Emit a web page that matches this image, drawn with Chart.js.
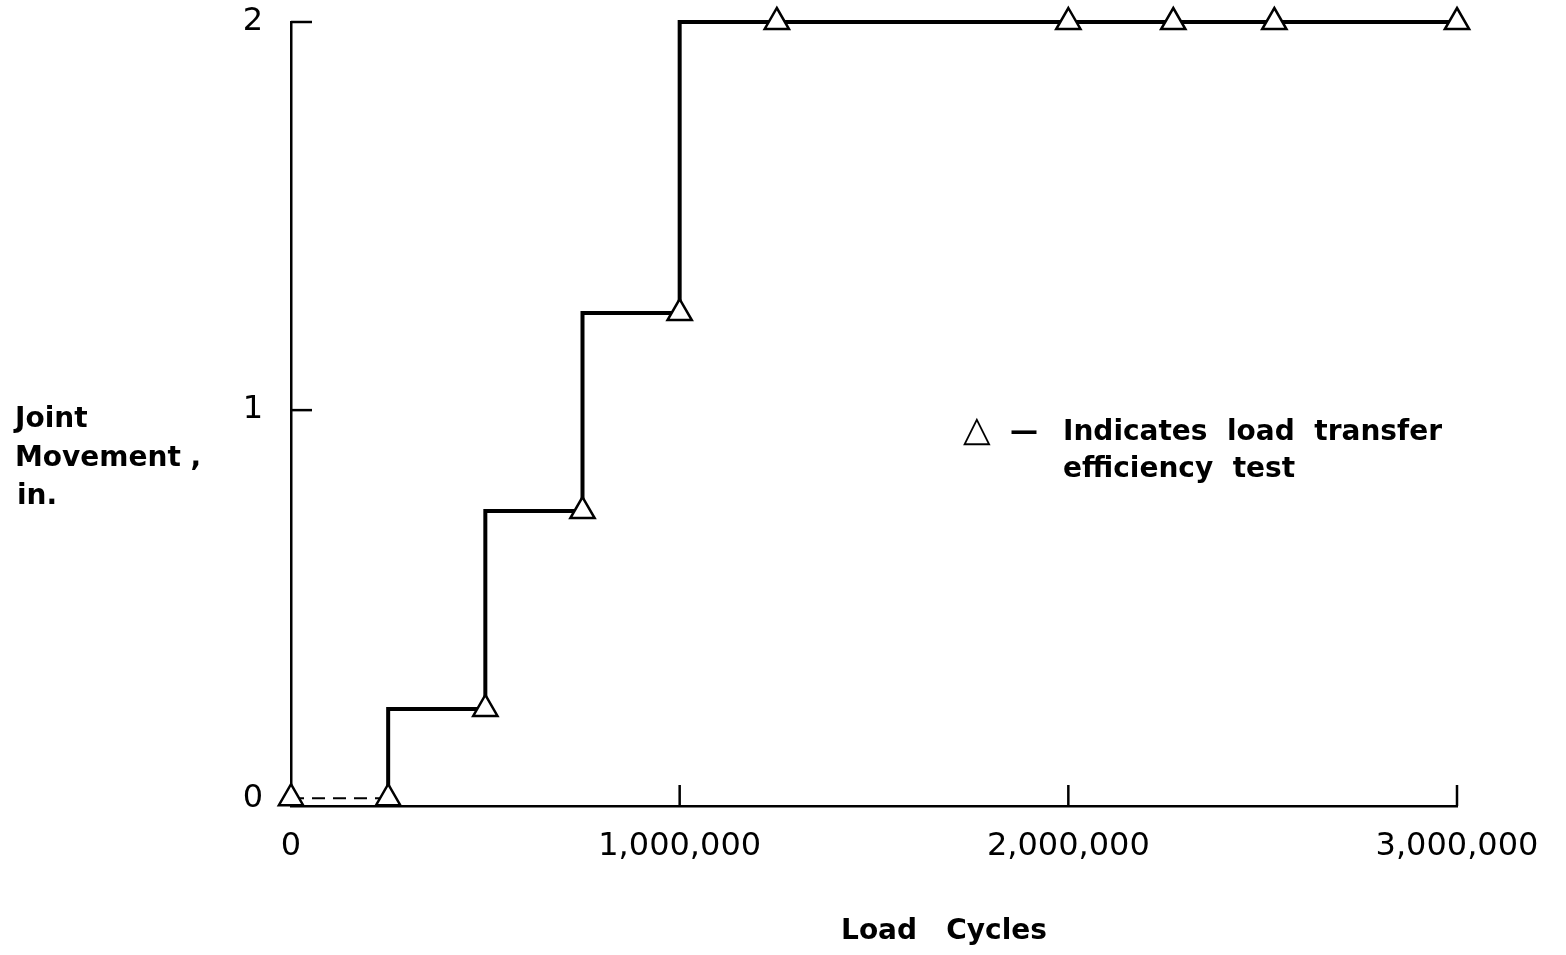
<!DOCTYPE html>
<html>
<head>
<meta charset="utf-8">
<script src="https://cdn.jsdelivr.net/npm/chart.js@4"></script>
<style>
    html, body { margin: 0; padding: 0; background: #fff; }
    #wrap { width: 1566px; height: 955px; }
</style>
</head>
<body>
<div id="wrap"><canvas id="graficoJuntas"></canvas></div>
<script>
const loadCycles = [0, 250000, 500000, 750000, 1000000, 1250000, 2000000, 2270000, 2530000, 3000000];
const jointMovement = [0, 0, 0.23, 0.74, 1.25, 2, 2, 2, 2, 2];
const xTicks = [0, 1000000, 2000000, 3000000];
const yTicks = [0, 1, 2];
const yTitle = ['Joint', 'Movement ,', 'in.'];
const xTitle = 'Load   Cycles';
const notaLineas = ['Indicates  load  transfer', 'efficiency  test'];

const FONT = 'DejaVu Sans';
const TXT = 'bold 28px "' + FONT + '"';

// marcas de los ejes hacia adentro + textos sueltos
const extras = {
    id: 'extras',
    afterDraw(chart) {
        const ctx = chart.ctx;
        const x = chart.scales.x, y = chart.scales.y;
        const area = chart.chartArea;
        ctx.save();
        ctx.strokeStyle = '#000';
        ctx.lineWidth = 2.5;
        yTicks.forEach(v => {
            if (v === 0) return;
            const py = y.getPixelForValue(v);
            ctx.beginPath();
            ctx.moveTo(area.left, py);
            ctx.lineTo(area.left + 21, py);
            ctx.stroke();
        });
        xTicks.forEach(v => {
            if (v === 0) return;
            const px = x.getPixelForValue(v);
            ctx.beginPath();
            ctx.moveTo(px, area.bottom);
            ctx.lineTo(px, area.bottom - 21);
            ctx.stroke();
        });
        ctx.fillStyle = '#000';
        ctx.font = TXT;
        ctx.textAlign = 'left';
        ctx.textBaseline = 'middle';
        ctx.fillText(yTitle[0], 15, 420);
        ctx.fillText(yTitle[1], 15, 459);
        ctx.fillText(yTitle[2], 17, 497);
        ctx.fillText(notaLineas[0], 1063, 433);
        ctx.fillText(notaLineas[1], 1063, 470);
        ctx.fillText('\u2014', 1010, 433);
        ctx.textAlign = 'center';
        ctx.fillText(xTitle, 944, 932);
        ctx.textAlign = 'left';
        ctx.font = '36px "' + FONT + '"';
        ctx.fillText('\u25B3', 963, 432);
        ctx.restore();
    }
};

const ctx = document.getElementById('graficoJuntas').getContext('2d');
new Chart(ctx, {
    type: 'line',
    data: {
        datasets: [{
            label: 'Joint Movement',
            data: loadCycles.map((c, i) => ({ x: c, y: jointMovement[i] })),
            borderColor: '#000',
            borderWidth: 4,
            stepped: 'after',
            fill: false,
            pointStyle: 'triangle',
            pointRadius: 14,
            pointBorderWidth: 2.5,
            pointBackgroundColor: '#fff',
            pointBorderColor: '#000',
            segment: {
                borderDash: c => c.p0DataIndex === 0 ? [13, 8] : undefined,
                borderWidth: c => c.p0DataIndex === 0 ? 2 : undefined
            },
            clip: false
        }]
    },
    options: {
        responsive: true,
        maintainAspectRatio: false,
        animation: false,
        layout: { padding: { top: 22, right: 109, left: 0, bottom: 0 } },
        plugins: {
            legend: { display: false },
            tooltip: { enabled: false }
        },
        scales: {
            x: {
                type: 'linear',
                min: 0,
                max: 3000000,
                afterBuildTicks: s => { s.ticks = xTicks.map(v => ({ value: v })); },
                afterFit: s => { s.height = 149; s.paddingLeft = 0; s.paddingRight = 0; },
                grid: { display: false, drawTicks: false },
                border: { display: true, color: '#000', width: 2.5 },
                ticks: {
                    color: '#000',
                    padding: 21,
                    maxRotation: 0,
                    font: { family: FONT, size: 32 },
                    callback: v => v.toLocaleString('en-US')
                }
            },
            y: {
                type: 'linear',
                min: -0.02,
                max: 2,
                afterBuildTicks: s => { s.ticks = yTicks.map(v => ({ value: v })); },
                afterFit: s => { s.width = 291; s.paddingTop = 0; s.paddingBottom = 0; },
                grid: { display: false, drawTicks: false },
                border: { display: true, color: '#000', width: 2.5 },
                ticks: {
                    color: '#000',
                    padding: 28,
                    font: { family: FONT, size: 32 }
                }
            }
        }
    },
    plugins: [extras]
});
</script>
</body>
</html>
